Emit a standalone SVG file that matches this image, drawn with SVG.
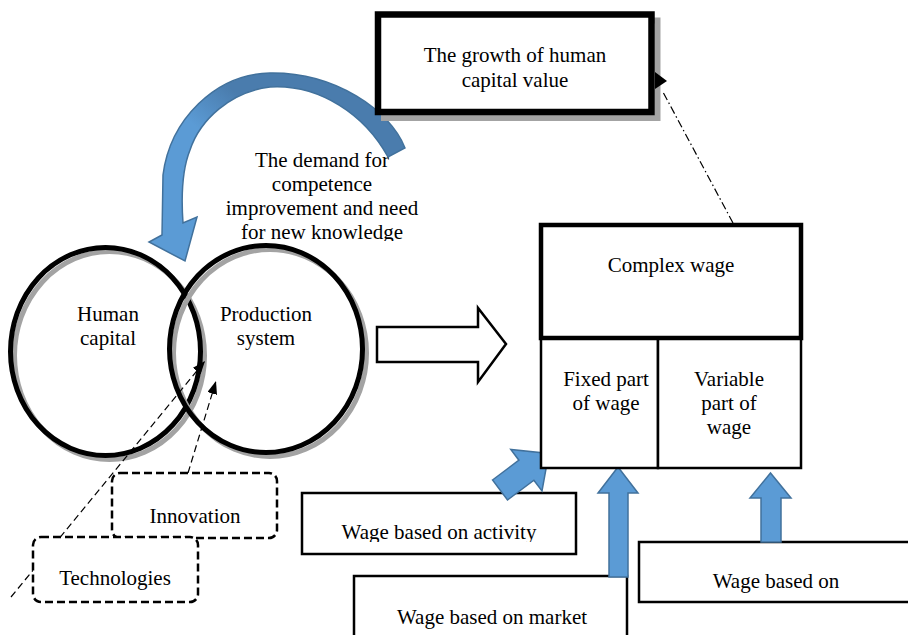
<svg xmlns="http://www.w3.org/2000/svg" width="908" height="635" viewBox="0 0 908 635">
<style>
text{font-family:"Liberation Serif","Times New Roman",serif;font-size:21px;fill:#000;text-anchor:middle}
.ring{fill:none;stroke:#000;stroke-width:5}
.ringsh{fill:none;stroke:#a3a3a3;stroke-width:5}
.dbox{fill:#fff;stroke:#000;stroke-width:2.5;stroke-dasharray:8,4}
.box{fill:#fff;stroke:#000;stroke-width:2.5}
.blue{fill:#5B9BD5;stroke:#41719C;stroke-width:1.5}
.dash{fill:none;stroke:#000;stroke-width:1.2;stroke-dasharray:7,4}
</style>
<defs>
<linearGradient id="arcg" gradientUnits="userSpaceOnUse" x1="212" y1="140" x2="245" y2="100">
<stop offset="0" stop-color="#5B9BD5"/>
<stop offset="1" stop-color="#4A7CAD"/>
</linearGradient>
<clipPath id="demclip"><rect x="200" y="140" width="240" height="101"/></clipPath>
<clipPath id="actclip"><rect x="303" y="494" width="272" height="48"/></clipPath>
<marker id="ah" markerUnits="userSpaceOnUse" markerWidth="13" markerHeight="10" refX="13" refY="5" orient="auto">
<path d="M0,0 L13,5 L0,10 z" fill="#000"/>
</marker>
</defs>

<g id="demand-label" clip-path="url(#demclip)">
<text x="322" y="167">The demand for</text>
<text x="322" y="191">competence</text>
<text x="322" y="215">improvement and need</text>
<text x="322" y="239">for new knowledge</text>
</g>

<g id="curved-arrow">
<path d="M405,148 C390,110 335,72 270,73 C215,74 170,120 163,175 L162,235 L149,242 L185,261 L197,217 L183,223 C181,195 182,170 190,150 C200,120 230,92 270,87 C320,84 365,115 388,157 Z" fill="url(#arcg)" stroke="#41719C" stroke-width="1.5"/>
</g>

<g id="growth">
<rect x="384" y="20.5" width="273.5" height="97.5" fill="none" stroke="#a3a3a3" stroke-width="6"/>
<rect x="378" y="14.5" width="273.5" height="97.5" fill="#fff" stroke="#000" stroke-width="6.5"/>
<text x="515" y="62">The growth of human</text>
<text x="515" y="87">capital value</text>
</g>

<g id="human-capital">
<ellipse cx="109.5" cy="355.5" rx="95" ry="104" class="ringsh"/>
<ellipse cx="105.5" cy="351.5" rx="95" ry="104" class="ring"/>
<text x="108" y="321">Human</text>
<text x="108" y="345">capital</text>
</g>

<g id="production-system">
<ellipse cx="270" cy="353" rx="96.5" ry="103.5" class="ringsh"/>
<ellipse cx="266" cy="349" rx="96.5" ry="103.5" class="ring"/>
<text x="266" y="321">Production</text>
<text x="266" y="345">system</text>
</g>

<g id="connectors">
<line x1="11" y1="597" x2="205" y2="361" class="dash" marker-end="url(#ah)"/>
<line x1="188" y1="473" x2="216" y2="381" class="dash" marker-end="url(#ah)"/>
<line x1="733" y1="223" x2="663" y2="92" fill="none" stroke="#000" stroke-width="1.2" stroke-dasharray="8,3,1.5,3"/>
<polygon points="655,72 667,81 655,89" fill="#000"/>
</g>

<g id="innovation">
<rect x="112" y="473" width="165" height="65" rx="8" class="dbox"/>
<text x="195" y="523">Innovation</text>
</g>

<g id="technologies">
<rect x="33" y="537" width="165" height="65" rx="8" class="dbox"/>
<text x="115" y="585">Technologies</text>
</g>

<g id="block-arrow">
<polygon points="377,327 478,327 478,308 506,344 478,382 478,362 377,362" fill="#fff" stroke="#000" stroke-width="2.5"/>
</g>

<g id="wage-activity">
<rect x="302" y="493" width="274" height="61" class="box"/>
<text x="439" y="539" clip-path="url(#actclip)">Wage based on activity</text>
</g>

<g id="wage-market">
<rect x="354" y="576" width="273" height="70" class="box"/>
<text x="492" y="624">Wage based on market</text>
</g>

<g id="wage-based-on">
<rect x="639" y="542" width="280" height="60" class="box"/>
<text x="776" y="588">Wage based on</text>
</g>

<g id="blue-arrows">
<polygon points="492.5,480 518.9,460.2 510.8,449.4 548.8,453.4 542,491 533.9,480.2 507.5,500" class="blue"/>
<polygon points="609,577 609,493 598,493 618,467 638,493 628,493 628,577" class="blue"/>
<polygon points="761,542 761,498 750,498 770.5,473 791,498 781,498 781,542" class="blue"/>
</g>

<g id="complex-wage">
<rect x="541" y="338" width="117" height="130" class="box"/>
<rect x="658" y="338" width="143" height="130" class="box"/>
<rect x="541" y="225" width="260" height="113" fill="#fff" stroke="#000" stroke-width="4.5"/>
<text x="671" y="272">Complex wage</text>
<text x="606" y="386">Fixed part</text>
<text x="606" y="410">of wage</text>
<text x="729" y="386">Variable</text>
<text x="729" y="410">part of</text>
<text x="729" y="434">wage</text>
</g>
</svg>
